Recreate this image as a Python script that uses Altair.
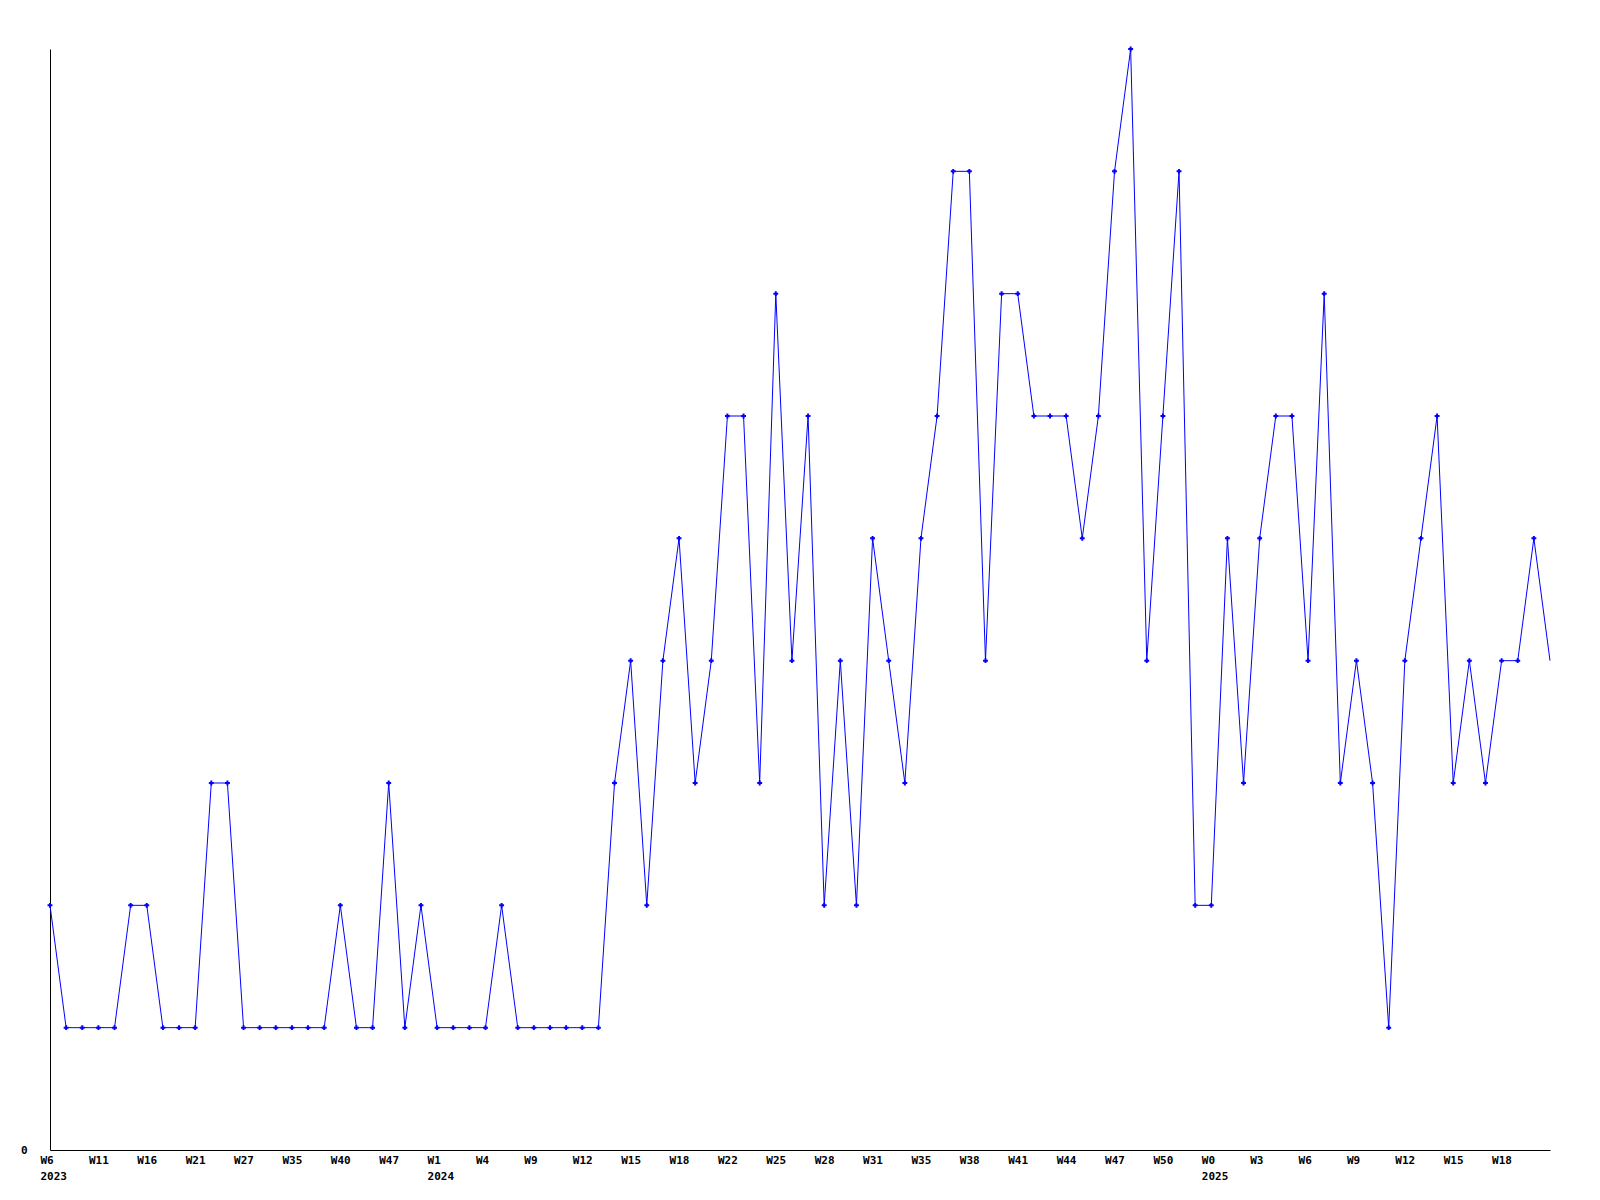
import altair as alt
import pandas as pd

values = [2, 1, 1, 1, 1, 2, 2, 1, 1, 1,
          3, 3, 1, 1, 1, 1, 1, 1, 2, 1,
          1, 3, 1, 2, 1, 1, 1, 1, 2, 1,
          1, 1, 1, 1, 1, 3, 4, 2, 4, 5,
          3, 4, 6, 6, 3, 7, 4, 6, 2, 4,
          2, 5, 4, 3, 5, 6, 8, 8, 4, 7,
          7, 6, 6, 6, 5, 6, 8, 9, 4, 6,
          8, 2, 2, 5, 3, 5, 6, 6, 4, 7,
          3, 4, 3, 1, 4, 5, 6, 3, 4, 3,
          4, 4, 5, 4]

tick_labels = ["W6 2023", "W11", "W16", "W21", "W27", "W35", "W40", "W47",
               "W1 2024", "W4", "W9", "W12", "W15", "W18", "W22", "W25",
               "W28", "W31", "W35", "W38", "W41", "W44", "W47", "W50",
               "W0 2025", "W3", "W6", "W9", "W12", "W15", "W18"]
tick_step = 3

df = pd.DataFrame({"i": list(range(len(values))), "v": values})
tick_vals = [k * tick_step for k in range(len(tick_labels))]
label_arr = "[" + ",".join("'" + t + "'" for t in tick_labels) + "]"
label_expr = f"split({label_arr}[round(datum.value / {tick_step})], ' ')"

FONT = "DejaVu Sans Mono"

x_enc = alt.X("i:Q", scale=alt.Scale(domain=[0, len(values) - 1], nice=False, zero=False),
              axis=alt.Axis(values=tick_vals, labelExpr=label_expr, title=None, grid=False,
                            ticks=False, domainColor="black", domainWidth=1,
                            labelAlign="left", labelOffset=-10, labelBaseline="top",
                            labelPadding=4, labelLineHeight=16, labelFont=FONT,
                            labelFontWeight="bold", labelFontSize=11, labelColor="black",
                            labelOverlap=False, labelFlush=False))
y_enc = alt.Y("v:Q", scale=alt.Scale(domain=[0, 9], nice=False),
              axis=alt.Axis(values=[0], format="d", title=None, grid=False, ticks=False,
                            domainColor="black", domainWidth=1, labelPadding=23,
                            labelFont=FONT, labelFontWeight="bold", labelFontSize=11,
                            labelColor="black", labelBaseline="middle"))

line = alt.Chart(df).mark_line(color="#0000ff", strokeWidth=1).encode(x=x_enc, y=y_enc)
pts = alt.Chart(df).transform_filter(f"datum.i < {len(values) - 1}").mark_point(
    shape="cross", filled=True, size=24, color="#0000ff", opacity=1
).encode(x="i:Q", y="v:Q")

chart = (line + pts).properties(
    width=1500, height=1101,
    background="white",
    autosize=alt.AutoSizeParams(type="none"),
    padding={"left": 42, "top": 41, "right": 10, "bottom": 40},
).configure_view(stroke=None, strokeWidth=0)

chart.save("out.html", embed_options={"renderer": "svg", "actions": False})
